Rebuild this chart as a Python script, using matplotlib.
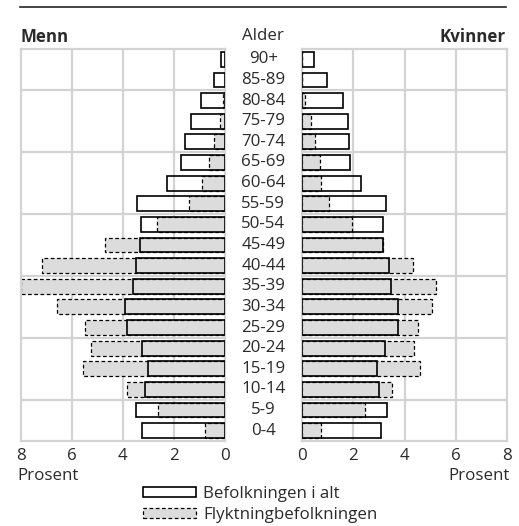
import matplotlib
matplotlib.use("Agg")
import matplotlib.pyplot as plt
from matplotlib.patches import Patch
from matplotlib.lines import Line2D
import numpy as np

plt.rcParams['font.family'] = ['Open Sans', 'DejaVu Sans']
plt.rcParams['text.color'] = '#2a2a2a'
plt.rcParams['xtick.color'] = '#2a2a2a'

ages = ["0-4", "5-9", "10-14", "15-19", "20-24", "25-29", "30-34", "35-39",
        "40-44", "45-49", "50-54", "55-59", "60-64", "65-69", "70-74",
        "75-79", "80-84", "85-89", "90+"]

# prosent, fra yngste til eldste
menn_alt = [3.24, 3.50, 3.14, 3.03, 3.25, 3.84, 3.91, 3.60, 3.49, 3.32,
            3.29, 3.45, 2.26, 1.73, 1.57, 1.35, 0.95, 0.43, 0.17]
menn_flykt = [0.77, 2.64, 3.84, 5.56, 5.24, 5.48, 6.60, 8.00, 7.19, 4.70,
              2.67, 1.40, 0.89, 0.64, 0.42, 0.20, 0.07, 0.0, 0.0]
kvinner_alt = [3.10, 3.31, 2.99, 2.94, 3.22, 3.74, 3.74, 3.46, 3.39, 3.18,
               3.18, 3.26, 2.29, 1.89, 1.84, 1.80, 1.60, 0.96, 0.47]
kvinner_flykt = [0.75, 2.46, 3.50, 4.60, 4.36, 4.54, 5.07, 5.22, 4.32, 3.15,
                 1.94, 1.04, 0.73, 0.70, 0.51, 0.34, 0.12, 0.0, 0.0]

xticks = [0, 2, 4, 6, 8]

grey = "#dcdcdc"
gridc = "#d3d3d3"
fs = 12.2

fig = plt.figure(figsize=(5.19, 5.26), dpi=100)
W, H = 519, 526
bottom = 1 - 441 / H
height = 392 / H
axl = fig.add_axes([21 / W, bottom, 204 / W, height])
axr = fig.add_axes([302 / W, bottom, 205 / W, height])

y = np.arange(len(ages))
bh = 0.72

for ax, alt, flykt in [(axl, menn_alt, menn_flykt), (axr, kvinner_alt, kvinner_flykt)]:
    ax.barh(y, flykt, height=bh, color=grey, edgecolor="black",
            linewidth=0.9, linestyle=(0, (3, 2)), zorder=2)
    ax.barh(y, alt, height=bh, facecolor="none", edgecolor="black",
            linewidth=1.2, zorder=3)
    ax.set_xlim(0, 8)
    ax.set_ylim(-0.5, len(ages) - 0.5)
    ax.set_xticks(xticks)
    ax.set_xticklabels([str(t) for t in xticks], fontsize=fs)
    ax.set_yticks([])
    ax.tick_params(axis="x", length=0, pad=5)
    for v in [2, 4, 6]:
        ax.axvline(v, color=gridc, lw=1.6, zorder=0)
    for h in [1.5, 4.5, 7.5, 10.5, 13.5, 16.5]:
        ax.axhline(h, color=gridc, lw=1.6, zorder=0)
    for s in ax.spines.values():
        s.set_color(gridc)
        s.set_linewidth(1.6)

axl.invert_xaxis()

# aldersgrupper mellom panelene
for i, a in enumerate(ages):
    axl.annotate(a, xy=(0, i), xycoords="data", xytext=(27.6, 0),
                 textcoords="offset points", ha="center", va="center",
                 fontsize=fs)

fig.text(21 / W, 1 - 37 / H, "Menn", fontsize=fs, fontweight="bold",
         ha="left", va="center")
fig.text(506 / W, 1 - 37 / H, "Kvinner", fontsize=fs, fontweight="bold",
         ha="right", va="center")
fig.text(263 / W, 1 - 36 / H, "Alder", fontsize=fs, ha="center", va="center")
fig.text(17 / W, 1 - 476 / H, "Prosent", fontsize=fs, ha="left", va="center")
fig.text(510 / W, 1 - 476 / H, "Prosent", fontsize=fs, ha="right", va="center")

fig.add_artist(Line2D([20 / W, 506 / W], [1 - 7 / H, 1 - 7 / H],
                      color="#222222", lw=1.2))

handles = [Patch(facecolor="white", edgecolor="black", linewidth=1.2),
           Patch(facecolor=grey, edgecolor="black", linewidth=0.9,
                 linestyle=(0, (3, 2)))]
fig.legend(handles, ["Befolkningen i alt", "Flyktningbefolkningen"],
           loc="upper left", bbox_to_anchor=(143 / W, 1 - 486 / H),
           frameon=False, fontsize=fs, handlelength=3.1, handleheight=0.55,
           handletextpad=0.45, labelspacing=0.3, borderpad=0, borderaxespad=0)

fig.savefig("out.png", dpi=100)
